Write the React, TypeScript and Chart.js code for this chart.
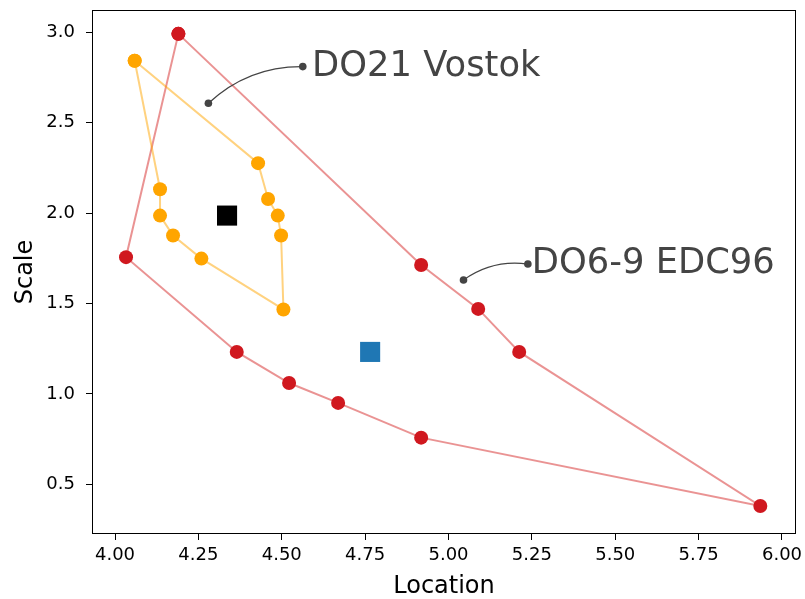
import React, { useEffect, useRef } from 'react';
import { Chart, registerables } from 'chart.js';

Chart.register(...registerables);

// Red polygon (DO6-9 EDC96 hull), in drawing order
const redLocation = [4.190, 4.033, 4.365, 4.522, 4.669, 4.918, 5.935, 5.212, 5.089, 4.918];
const redScale = [2.991, 1.756, 1.232, 1.060, 0.950, 0.758, 0.380, 1.232, 1.470, 1.713];

// Orange polygon (DO21 Vostok hull), in drawing order
const orangeLocation = [4.059, 4.429, 4.459, 4.488, 4.498, 4.505, 4.259, 4.174, 4.135, 4.135];
const orangeScale = [2.842, 2.276, 2.078, 1.986, 1.876, 1.467, 1.748, 1.876, 1.986, 2.132];

// Centre squares
const squareLocation = [4.336, 4.765];
const squareScale = [1.986, 1.232];
const squareColors = ['#000000', '#1f77b4'];

// Annotations
const annotationLabels = ['DO21 Vostok', 'DO6-9 EDC96'];
const annotationPointLocation = [4.280, 5.045];
const annotationPointScale = [2.607, 1.630];
const annotationTextLocation = [4.563, 5.238];
const annotationTextScale = [2.810, 1.718];
const annotationLabelLocation = [4.591, 5.250];

// Axes
const xTicks = [4.0, 4.25, 4.5, 4.75, 5.0, 5.25, 5.5, 5.75, 6.0];
const yTicks = [0.5, 1.0, 1.5, 2.0, 2.5, 3.0];
const xRange = [3.931, 6.042];
const yRange = [0.225, 3.123];

const FONT = "'DejaVu Sans', sans-serif";
const zeroPad = () => ({ left: 0, top: 0, right: 0, bottom: 0 });

function closed(xs: number[], ys: number[]) {
  const pts = xs.map((x, i) => ({ x, y: ys[i] }));
  pts.push({ x: xs[0], y: ys[0] });
  return pts;
}

export default function App() {
  const ref = useRef<HTMLCanvasElement | null>(null);
  useEffect(() => {
    if (!ref.current) return;

    const overlay = {
      id: 'overlay',
      afterDraw(chart: any) {
        const { ctx, chartArea, scales } = chart;
        ctx.save();
        // frame
        ctx.strokeStyle = '#000';
        ctx.lineWidth = 1;
        const l = Math.round(chartArea.left) + 0.5;
        const t = Math.round(chartArea.top) + 0.5;
        const r = Math.round(chartArea.right) - 0.5;
        const b = Math.round(chartArea.bottom) - 0.5;
        ctx.strokeRect(l, t, r - l, b - t);
        // annotations
        const grey = '#444444';
        annotationLabels.forEach((label, i) => {
          const x1 = scales.x.getPixelForValue(annotationTextLocation[i]);
          const y1 = scales.y.getPixelForValue(annotationTextScale[i]);
          const x2 = scales.x.getPixelForValue(annotationPointLocation[i]);
          const y2 = scales.y.getPixelForValue(annotationPointScale[i]);
          const rad = -0.2;
          const cx = (x1 + x2) / 2 + rad * (y2 - y1);
          const cy = (y1 + y2) / 2 - rad * (x2 - x1);
          ctx.strokeStyle = grey;
          ctx.lineWidth = 1.3;
          ctx.beginPath();
          ctx.moveTo(x1, y1);
          ctx.quadraticCurveTo(cx, cy, x2, y2);
          ctx.stroke();
          ctx.fillStyle = grey;
          for (const [px, py] of [[x1, y1], [x2, y2]]) {
            ctx.beginPath();
            ctx.arc(px, py, 3.8, 0, Math.PI * 2);
            ctx.fill();
          }
          ctx.font = `35.3px ${FONT}`;
          ctx.textAlign = 'left';
          ctx.textBaseline = 'middle';
          ctx.fillText(label, scales.x.getPixelForValue(annotationLabelLocation[i]), y1);
        });
        ctx.restore();
      },
    };

    const chart = new Chart(ref.current, {
      type: 'scatter',
      data: {
        datasets: [
          {
            data: squareLocation.map((x, i) => ({ x, y: squareScale[i] })),
            pointStyle: 'rect',
            pointRadius: 14.2,
            pointHoverRadius: 14.2,
            backgroundColor: squareColors,
            borderColor: squareColors,
            borderWidth: 0,
            showLine: false,
          } as any,
          {
            data: closed(orangeLocation, orangeScale),
            showLine: true,
            borderColor: 'rgba(255,165,0,0.5)',
            borderWidth: 2,
            pointRadius: 7,
            pointHoverRadius: 7,
            pointBackgroundColor: '#ffa500',
            pointBorderColor: '#ffa500',
            pointBorderWidth: 0,
          },
          {
            data: closed(redLocation, redScale),
            showLine: true,
            borderColor: 'rgba(214,39,40,0.5)',
            borderWidth: 2,
            pointRadius: 7,
            pointHoverRadius: 7,
            pointBackgroundColor: '#d0181f',
            pointBorderColor: '#d0181f',
            pointBorderWidth: 0,
          },
        ],
      },
      options: {
        responsive: false,
        maintainAspectRatio: false,
        animation: false,
        devicePixelRatio: 1,
        layout: { autoPadding: false, padding: { left: 0, top: 10, right: 9, bottom: 0 } },
        plugins: { legend: { display: false }, tooltip: { enabled: false }, title: { display: false } },
        scales: {
          x: {
            type: 'linear',
            min: xRange[0],
            max: xRange[1],
            afterBuildTicks: (s: any) => { s.ticks = xTicks.map((v) => ({ value: v })); },
            afterFit: (s: any) => {
              s.height = 65; s.paddingLeft = 0; s.paddingRight = 0; s.paddingTop = 0; s.paddingBottom = 0;
              s.getPadding = zeroPad;
            },
            grid: { drawOnChartArea: false, drawTicks: true, tickLength: 6, tickColor: '#000', tickWidth: 1 },
            border: { display: false },
            ticks: {
              color: '#000',
              padding: 5,
              maxRotation: 0,
              autoSkip: false,
              font: { family: FONT, size: 18 },
              callback: (v: any) => Number(v).toFixed(2),
            },
            title: {
              display: true,
              text: 'Location',
              color: '#000',
              font: { family: FONT, size: 24, lineHeight: 1 },
              padding: { top: 0, bottom: 0 },
            },
          },
          y: {
            type: 'linear',
            min: yRange[0],
            max: yRange[1],
            afterBuildTicks: (s: any) => { s.ticks = yTicks.map((v) => ({ value: v })); },
            afterFit: (s: any) => {
              s.width = 92; s.paddingTop = 0; s.paddingBottom = 0; s.paddingLeft = 0; s.paddingRight = 0;
              s.getPadding = zeroPad;
            },
            grid: { drawOnChartArea: false, drawTicks: true, tickLength: 6, tickColor: '#000', tickWidth: 1 },
            border: { display: false },
            ticks: {
              color: '#000',
              padding: 11,
              autoSkip: false,
              font: { family: FONT, size: 18 },
              callback: (v: any) => Number(v).toFixed(1),
            },
            title: {
              display: true,
              text: 'Scale',
              color: '#000',
              font: { family: FONT, size: 24, lineHeight: 1 },
              padding: { top: 14, bottom: 0 },
            },
          },
        },
      },
      plugins: [overlay],
    });
    return () => chart.destroy();
  }, []);

  return (
    <div style={{ position: 'fixed', left: 0, top: 0, width: 805, height: 599, background: '#fff' }}>
      <canvas ref={ref} width={805} height={599} style={{ display: 'block' }} />
    </div>
  );
}
